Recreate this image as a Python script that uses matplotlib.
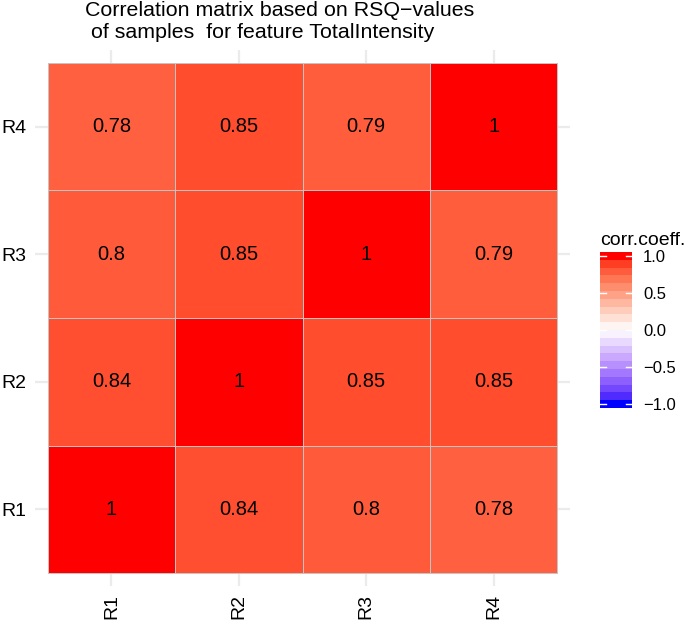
import numpy as np
import matplotlib
matplotlib.use("Agg")
import matplotlib.pyplot as plt
from matplotlib.colors import ListedColormap, Normalize

plt.rcParams['font.family'] = ['Liberation Sans', 'DejaVu Sans']

# ---- data ----
samples = ["R1", "R2", "R3", "R4"]
row_R1 = [1.00, 0.84, 0.80, 0.78]
row_R2 = [0.84, 1.00, 0.85, 0.85]
row_R3 = [0.80, 0.85, 1.00, 0.79]
row_R4 = [0.78, 0.85, 0.79, 1.00]
legend_ticks = [-1.0, -0.5, 0.0, 0.5, 1.0]
title_line1 = "Correlation matrix based on RSQ\u2212values"
title_line2 = " of samples  for feature TotalIntensity"
legend_title = "corr.coeff."

corr = np.array([row_R1, row_R2, row_R3, row_R4])

# ---- Lab interpolation (like ggplot2 scale_fill_gradient2) ----
def srgb_to_lab(rgb):
    rgb = np.asarray(rgb, float)
    lin = np.where(rgb <= 0.04045, rgb / 12.92, ((rgb + 0.055) / 1.055) ** 2.4)
    M = np.array([[0.4124, 0.3576, 0.1805],
                  [0.2126, 0.7152, 0.0722],
                  [0.0193, 0.1192, 0.9505]])
    xyz = M @ lin
    wp = np.array([0.95047, 1.0, 1.08883])
    t = xyz / wp
    f = np.where(t > 0.008856, np.cbrt(t), 7.787 * t + 16 / 116)
    L = 116 * f[1] - 16
    a = 500 * (f[0] - f[1])
    b = 200 * (f[1] - f[2])
    return np.array([L, a, b])

def lab_to_srgb(lab):
    L, a, b = lab
    fy = (L + 16) / 116
    fx = fy + a / 500
    fz = fy - b / 200
    def finv(f):
        return np.where(f ** 3 > 0.008856, f ** 3, (f - 16 / 116) / 7.787)
    wp = np.array([0.95047, 1.0, 1.08883])
    xyz = np.array([finv(fx), finv(fy), finv(fz)]) * wp
    Minv = np.array([[3.2406, -1.5372, -0.4986],
                     [-0.9689, 1.8758, 0.0415],
                     [0.0557, -0.2040, 1.0570]])
    lin = Minv @ xyz
    lin = np.clip(lin, 0, 1)
    rgb = np.where(lin <= 0.0031308, 12.92 * lin, 1.055 * lin ** (1 / 2.4) - 0.055)
    return np.clip(rgb, 0, 1)

lab_low = srgb_to_lab([0, 0, 1])
lab_mid = srgb_to_lab([1, 1, 1])
lab_high = srgb_to_lab([1, 0, 0])

def val_color(v):
    if v >= 0:
        lab = lab_mid + (lab_high - lab_mid) * v
    else:
        lab = lab_mid + (lab_low - lab_mid) * (-v)
    return lab_to_srgb(lab)

N = 512
cmap = ListedColormap([val_color(v) for v in np.linspace(-1, 1, N)])
norm = Normalize(-1, 1)

# ---- figure ----
W, H = 685, 621
fig = plt.figure(figsize=(W / 100, H / 100), dpi=100)

px_l, px_r, px_t, px_b = 35, 570, 50, 586
ax = fig.add_axes([px_l / W, 1 - px_b / H, (px_r - px_l) / W, (px_b - px_t) / H])

n = len(samples)
pos = np.arange(1, n + 1)
# grid lines (behind tiles)
for p in pos:
    ax.axvline(p, color="#EBEBEB", lw=1.6, zorder=0)
    ax.axhline(p, color="#EBEBEB", lw=1.6, zorder=0)

edges = np.arange(0.5, n + 1.0, 1.0)
ax.pcolormesh(edges, edges, corr, cmap=cmap, norm=norm,
              edgecolors="#C4C4C4", linewidth=0.6, zorder=2)

for i in range(n):
    for j in range(n):
        ax.text(pos[j], pos[i], "{:g}".format(corr[i, j]), ha="center", va="center",
                fontsize=14.5, color="black", zorder=3)

ax.set_xlim(0.4, n + 0.6)
ax.set_ylim(0.4, n + 0.6)
ax.set_xticks(pos)
ax.set_yticks(pos)
ax.set_xticklabels(samples, rotation=90, fontsize=14)
ax.set_yticklabels(samples, fontsize=14)
ax.tick_params(axis="y", length=0, pad=6)
ax.tick_params(axis="x", length=0, pad=6)
for s in ax.spines.values():
    s.set_visible(False)
ax.set_facecolor("white")

fig.text(85 / W, 1 - 16 / H, title_line1, ha="left", va="baseline", fontsize=15.4)
fig.text(85 / W, 1 - 38 / H, title_line2, ha="left", va="baseline", fontsize=15.4)

# ---- colour bar legend ----
cb_l, cb_r, cb_t, cb_b = 600, 632, 252, 408
cax = fig.add_axes([cb_l / W, 1 - cb_b / H, (cb_r - cb_l) / W, (cb_b - cb_t) / H])
nbin = 20
bins = np.linspace(-1, 1, nbin)
half = (bins[1] - bins[0]) / 2
cax.imshow(bins[:, None], cmap=cmap, norm=norm, aspect="auto", origin="lower",
           extent=[0, 1, -1 - half, 1 + half], interpolation="nearest")
cax.set_xlim(0, 1)
cax.set_ylim(-1 - half, 1 + half)
for t in legend_ticks:
    cax.plot([0, 0.2], [t, t], color="white", lw=1)
    cax.plot([0.8, 1], [t, t], color="white", lw=1)
cax.set_xticks([])
cax.yaxis.tick_right()
cax.set_yticks(legend_ticks)
cax.set_yticklabels(["{:.1f}".format(t).replace("-", "\u2212") for t in legend_ticks], fontsize=12)
cax.tick_params(axis="y", length=0, pad=8)
for s in cax.spines.values():
    s.set_visible(False)
fig.text(cb_l / W, 1 - 245 / H, legend_title, ha="left", va="baseline", fontsize=14)

fig.savefig("out.png", dpi=100, facecolor="white")
